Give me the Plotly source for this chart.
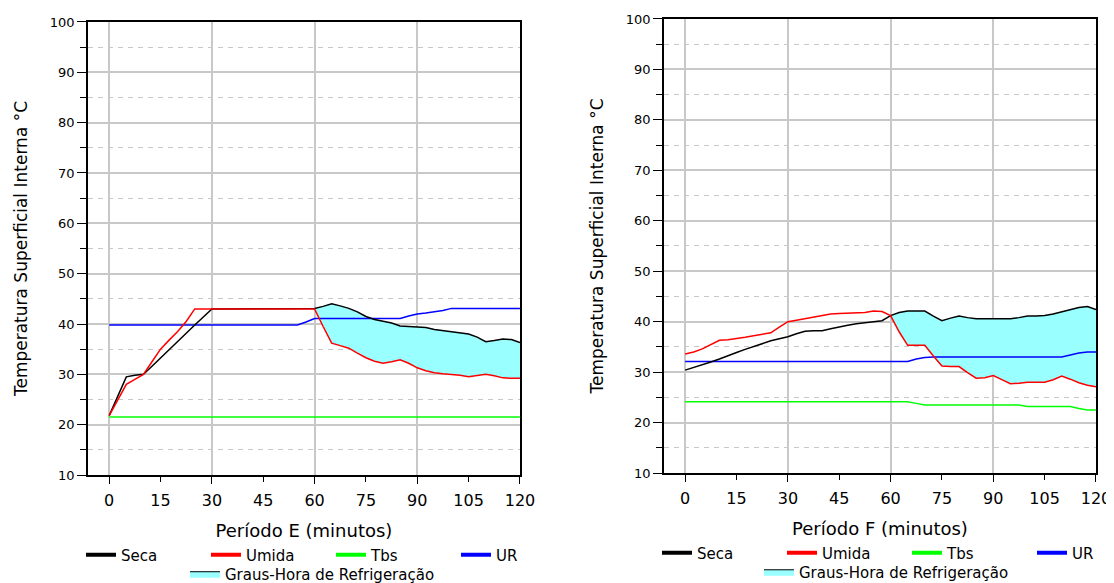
import plotly.graph_objects as go

# time axis (minutes), shared by both periods
minutos = [0, 2.5, 5, 7.5, 10, 12.5, 15, 17.5, 20, 22.5, 25, 27.5, 30, 32.5, 35, 37.5,
           40, 42.5, 45, 47.5, 50, 52.5, 55, 57.5, 60, 62.5, 65, 67.5, 70, 72.5, 75,
           77.5, 80, 82.5, 85, 87.5, 90, 92.5, 95, 97.5, 100, 102.5, 105, 107.5, 110,
           112.5, 115, 117.5, 120]

# Periodo E
seca_e = [21.8, 25.6, 29.5, 29.8, 30.0, 31.6, 33.2, 34.9, 36.5, 38.1, 39.8, 41.4, 43.0,
          43.0, 43.0, 43.0, 43.0, 43.0, 43.0, 43.0, 43.0, 43.0, 43.0, 43.0,
          43.1, 43.5, 44.0, 43.6, 43.1, 42.4, 41.5, 40.9, 40.6, 40.2, 39.6, 39.5, 39.4,
          39.3, 38.9, 38.7, 38.5, 38.3, 38.0, 37.4, 36.5, 36.7, 37.0, 36.9, 36.3]
umida_e = [21.8, 25.0, 28.0, 29.0, 30.0, 32.5, 35.0, 36.8, 38.5, 40.5, 43.0, 43.0, 43.0,
           43.0, 43.0, 43.0, 43.0, 43.0, 43.0, 43.0, 43.0, 43.0, 43.0, 43.0,
           43.0, 39.5, 36.2, 35.7, 35.2, 34.2, 33.3, 32.6, 32.2, 32.5, 32.9, 32.2, 31.3,
           30.7, 30.3, 30.1, 30.0, 29.8, 29.5, 29.7, 30.0, 29.7, 29.3, 29.2, 29.2]
tbs_e = [21.5, 21.5, 21.5, 21.5, 21.5, 21.5, 21.5, 21.5, 21.5, 21.5, 21.5, 21.5, 21.5,
         21.5, 21.5, 21.5, 21.5, 21.5, 21.5, 21.5, 21.5, 21.5, 21.5, 21.5,
         21.5, 21.5, 21.5, 21.5, 21.5, 21.5, 21.5, 21.5, 21.5, 21.5, 21.5, 21.5, 21.5,
         21.5, 21.5, 21.5, 21.5, 21.5, 21.5, 21.5, 21.5, 21.5, 21.5, 21.5, 21.5]
ur_e = [39.8, 39.8, 39.8, 39.8, 39.8, 39.8, 39.8, 39.8, 39.8, 39.8, 39.8, 39.8, 39.8,
        39.8, 39.8, 39.8, 39.8, 39.8, 39.8, 39.8, 39.8, 39.8, 39.8, 40.4,
        41.1, 41.1, 41.1, 41.1, 41.1, 41.1, 41.1, 41.1, 41.1, 41.1, 41.1, 41.6, 42.0,
        42.2, 42.4, 42.7, 43.1, 43.1, 43.1, 43.1, 43.1, 43.1, 43.1, 43.1, 43.1]

# Periodo F
seca_f = [30.4, 30.9, 31.4, 32.0, 32.6, 33.3, 33.9, 34.5, 35.1, 35.7, 36.2, 36.6, 37.0,
          37.6, 38.1, 38.2, 38.2, 38.6, 39.0, 39.3, 39.6, 39.8, 40.0, 40.2,
          41.2, 41.8, 42.1, 42.1, 42.1, 41.1, 40.2, 40.7, 41.1, 40.8, 40.6, 40.6, 40.6,
          40.6, 40.6, 40.8, 41.1, 41.1, 41.2, 41.5, 41.9, 42.3, 42.8, 43.0, 42.4]
umida_f = [33.6, 34.0, 34.6, 35.5, 36.3, 36.4, 36.6, 36.9, 37.2, 37.5, 37.8, 38.9, 40.0,
           40.3, 40.6, 40.9, 41.2, 41.5, 41.6, 41.7, 41.8, 41.8, 42.1, 42.0,
           41.2, 38.0, 35.3, 35.3, 35.3, 33.2, 31.2, 31.1, 31.1, 29.9, 28.8, 28.9, 29.3,
           28.5, 27.7, 27.8, 28.0, 28.0, 28.0, 28.5, 29.2, 28.6, 27.9, 27.4, 27.1]
tbs_f = [24.1, 24.1, 24.1, 24.1, 24.1, 24.1, 24.1, 24.1, 24.1, 24.1, 24.1, 24.1, 24.1,
         24.1, 24.1, 24.1, 24.1, 24.1, 24.1, 24.1, 24.1, 24.1, 24.1, 24.1,
         24.1, 24.1, 24.1, 23.8, 23.5, 23.5, 23.5, 23.5, 23.5, 23.5, 23.5, 23.5, 23.5,
         23.5, 23.5, 23.5, 23.2, 23.2, 23.2, 23.2, 23.2, 23.2, 22.8, 22.5, 22.5]
ur_f = [32.1, 32.1, 32.1, 32.1, 32.1, 32.1, 32.1, 32.1, 32.1, 32.1, 32.1, 32.1, 32.1,
        32.1, 32.1, 32.1, 32.1, 32.1, 32.1, 32.1, 32.1, 32.1, 32.1, 32.1,
        32.1, 32.1, 32.1, 32.6, 32.9, 33.0, 33.0, 33.0, 33.0, 33.0, 33.0, 33.0, 33.0,
        33.0, 33.0, 33.0, 33.0, 33.0, 33.0, 33.0, 33.0, 33.4, 33.8, 34.0, 34.0]

x_ticks = [0, 15, 30, 45, 60, 75, 90, 105, 120]
x_grid = [0, 30, 60, 90, 120]
FILL_START = 24  # index of minute 60, where the cooling area begins

series_names = ["Seca", "Umida", "Tbs", "UR"]
series_colors = ["#000000", "#ff0000", "#00ff00", "#0000ff"]
fill_name = "Graus-Hora de Refrigeração"
FILL_COLOR = "#99ffff"
FONT = "DejaVu Sans, Arial, sans-serif"

fig = go.Figure()


def add_panel(xa, xg, ya, seca, umida, tbs, ur, leg_lines, leg_fill):
    # cooling area between Umida (lower) and Seca (upper)
    fig.add_trace(go.Scatter(x=minutos[FILL_START:], y=umida[FILL_START:], xaxis=xa, yaxis=ya,
                             mode="lines", line=dict(width=0), showlegend=False, hoverinfo="skip"))
    fig.add_trace(go.Scatter(x=minutos[FILL_START:], y=seca[FILL_START:], xaxis=xa, yaxis=ya,
                             mode="lines", line=dict(width=0), fill="tonexty",
                             fillcolor=FILL_COLOR, showlegend=False, hoverinfo="skip"))
    fig.add_trace(go.Scatter(x=minutos, y=tbs, xaxis=xg, yaxis=ya, mode="lines",
                             line=dict(color=series_colors[2], width=1.5), showlegend=False))
    fig.add_trace(go.Scatter(x=minutos, y=ur, xaxis=xa, yaxis=ya, mode="lines",
                             line=dict(color=series_colors[3], width=1.5), showlegend=False))
    fig.add_trace(go.Scatter(x=minutos, y=seca, xaxis=xa, yaxis=ya, mode="lines",
                             line=dict(color=series_colors[0], width=1.5), showlegend=False))
    fig.add_trace(go.Scatter(x=minutos, y=umida, xaxis=xa, yaxis=ya, mode="lines",
                             line=dict(color=series_colors[1], width=1.5), showlegend=False))
    # legend entries (thicker swatches as in the original)
    for name, color in zip(series_names, series_colors):
        fig.add_trace(go.Scatter(x=[None], y=[None], xaxis=xa, yaxis=ya, mode="lines",
                                 name=name, line=dict(color=color, width=4), legend=leg_lines))
    fig.add_trace(go.Scatter(x=[None], y=[None], xaxis=xa, yaxis=ya, mode="lines",
                             name=fill_name, fill="toself", fillcolor=FILL_COLOR,
                             line=dict(color="black", width=1), legend=leg_fill))


add_panel("x", "x3", "y", seca_e, umida_e, tbs_e, ur_e, "legend", "legend2")
add_panel("x2", "x4", "y2", seca_f, umida_f, tbs_f, ur_f, "legend3", "legend4")

xrange = [-6.2, 120]

x_main = dict(range=xrange, tickmode="array", tickvals=x_ticks, ticks="outside", ticklen=5,
              tickcolor="black", showgrid=False, zeroline=False, showline=True, mirror=True,
              linecolor="black", linewidth=1.5, ticklabelstandoff=5,
              tickfont=dict(family=FONT, size=16, color="black"),
              title_font=dict(family=FONT, size=18, color="black"), title_standoff=15)
x_grid_ax = dict(range=xrange, tickmode="array", tickvals=x_grid, ticks="outside", ticklen=8,
                 tickcolor="black", showticklabels=False, showgrid=True, gridcolor="#c8c8c8",
                 gridwidth=1.5, zeroline=False, showline=False)
y_ax = dict(range=[10, 100], dtick=10, ticks="outside", ticklen=9, tickcolor="black",
            showgrid=True, gridcolor="#c8c8c8", gridwidth=1.5, zeroline=False, showline=True,
            mirror=True, linecolor="black", linewidth=1.5,
            tickfont=dict(family=FONT, size=13, color="black"),
            minor=dict(dtick=5, ticks="outside", ticklen=6, tickcolor="black", showgrid=True,
                       gridcolor="#c8c8c8", griddash="5px,5px", gridwidth=1),
            title_text="Temperatura Superficial Interna °C",
            title_font=dict(family=FONT, size=17, color="black"), title_standoff=18)

legend_common = dict(orientation="h", xanchor="left", yanchor="middle", traceorder="normal",
                     font=dict(family=FONT, size=15, color="black"), bgcolor="rgba(0,0,0,0)")

# the page body keeps an 8px margin, so the figure is 8px smaller than the window
fig.update_layout(
    width=1106,
    height=575,
    margin=dict(l=0, r=0, t=0, b=0, autoexpand=False),
    paper_bgcolor="white",
    plot_bgcolor="white",
    font=dict(family=FONT, color="black"),
    xaxis=dict(x_main, domain=[0.0723, 0.4629], anchor="y", title_text="Período E (minutos)"),
    xaxis3=dict(x_grid_ax, overlaying="x", anchor="y"),
    yaxis=dict(y_ax, domain=[0.1878, 0.9757], anchor="x"),
    xaxis2=dict(x_main, domain=[0.5931, 0.9837], anchor="y2", title_text="Período F (minutos)"),
    xaxis4=dict(x_grid_ax, overlaying="x2", anchor="y2"),
    yaxis2=dict(y_ax, domain=[0.1913, 0.9809], anchor="x2"),
    legend=dict(legend_common, x=0.066, y=0.0487, entrywidth=80, entrywidthmode="pixels"),
    legend2=dict(legend_common, x=0.16, y=0.0157),
    legend3=dict(legend_common, x=0.5868, y=0.0522, entrywidth=80, entrywidthmode="pixels"),
    legend4=dict(legend_common, x=0.679, y=0.0191),
)

fig.write_html("out.html")
